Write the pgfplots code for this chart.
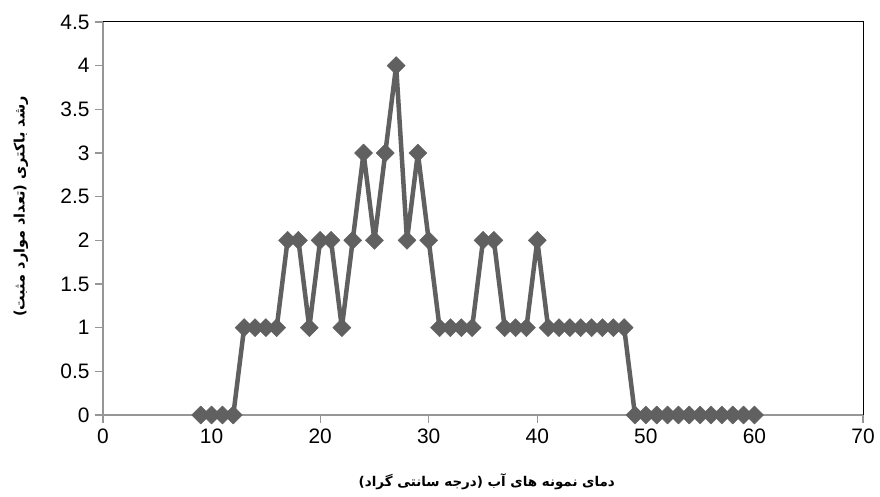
\documentclass[border=0pt]{standalone}
\usepackage{fontspec}
\setmainfont{Liberation Sans}
\newfontfamily\farsi[Script=Arabic]{DejaVu Sans}
\TeXXeTstate=1
\usepackage{pgfplots}
\pgfplotsset{compat=1.18}
\definecolor{serie}{RGB}{96,96,96}
\definecolor{axgray}{RGB}{150,150,150}
\begin{document}
\begin{tikzpicture}
\useasboundingbox (0,0) rectangle (880bp,497bp);
\begin{axis}[
  at={(103bp,82bp)}, anchor=south west,
  width=760bp, height=393bp, scale only axis,
  xmin=0, xmax=70, ymin=0, ymax=4.5,
  xtick={0,10,...,70},
  ytick={0,0.5,...,4.5},
  axis lines=left,
  axis line style={-, axgray, line width=1.5bp},
  tick style={axgray, line width=1.2bp},
  tick align=outside,
  major tick length=8bp,
  tick label style={font=\fontsize{21}{23}\selectfont, black},
  /pgf/number format/assume math mode=true,
  yticklabel style={/pgf/number format/fixed, xshift=-2bp},
  xticklabel style={yshift=-2bp},
  xlabel={\farsi\bfseries\beginR دمای نمونه های آب (درجه سانتی گراد)\endR},
  ylabel={\farsi\bfseries\beginR رشد باکتری  (تعداد موارد مثبت)\endR},
  label style={font=\fontsize{13.5}{16}\selectfont},
  xlabel style={at={(axis description cs:0.505,-0.17)}, anchor=center},
  ylabel style={at={(axis description cs:-0.108,0.53)}, anchor=center,
    font=\fontsize{14.5}{16}\selectfont},
  clip=false,
]
\addplot[serie, line width=4.5bp, line join=bevel, mark=square*, mark size=6.4bp,
  mark options={serie, solid, line width=0.4bp, rotate=45}] coordinates {
  (9,0)(10,0)(11,0)(12,0)(13,1)(14,1)(15,1)(16,1)(17,2)(18,2)(19,1)(20,2)
  (21,2)(22,1)(23,2)(24,3)(25,2)(26,3)(27,4)(28,2)(29,3)(30,2)(31,1)(32,1)
  (33,1)(34,1)(35,2)(36,2)(37,1)(38,1)(39,1)(40,2)(41,1)(42,1)(43,1)(44,1)
  (45,1)(46,1)(47,1)(48,1)(49,0)(50,0)(51,0)(52,0)(53,0)(54,0)(55,0)(56,0)
  (57,0)(58,0)(59,0)(60,0)
};
\draw[black, line width=1bp] (rel axis cs:0,1) -- (rel axis cs:1,1) -- (rel axis cs:1,0);
\end{axis}
\end{tikzpicture}
\end{document}
